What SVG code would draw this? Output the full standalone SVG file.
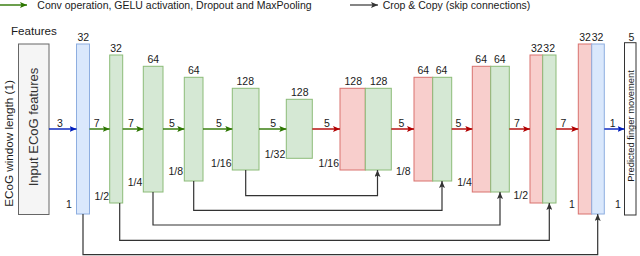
<svg xmlns="http://www.w3.org/2000/svg" width="640" height="256" viewBox="0 0 640 256">
<defs>
<style>
text{font-family:"Liberation Sans",Arial,sans-serif;fill:#1a1a1a}
.n{font-size:10.5px;text-anchor:middle}
.lg{font-size:10.5px}
.g{fill:#d5e8d4;stroke:#8cbc78;stroke-width:1}
.r{fill:#f8cecc;stroke:#d9726e;stroke-width:1}
.b{fill:#dae8fc;stroke:#8eaee0;stroke-width:1}
.ag{stroke:#2d7600;stroke-width:1.4;fill:none;marker-end:url(#mg)}
.ar{stroke:#b20000;stroke-width:1.4;fill:none;marker-end:url(#mr)}
.ab{stroke:#001dbc;stroke-width:1.4;fill:none;marker-end:url(#mb)}
.sk{stroke:#333333;stroke-width:1.2;fill:none;marker-end:url(#mk)}
</style>
<marker id="mg" markerUnits="userSpaceOnUse" markerWidth="7" markerHeight="6" refX="7" refY="3" orient="auto"><path d="M0,0 L7,3 L0,6 L1.5,3 z" fill="#2d7600"/></marker>
<marker id="mr" markerUnits="userSpaceOnUse" markerWidth="7" markerHeight="6" refX="7" refY="3" orient="auto"><path d="M0,0 L7,3 L0,6 L1.5,3 z" fill="#b20000"/></marker>
<marker id="mb" markerUnits="userSpaceOnUse" markerWidth="7" markerHeight="6" refX="7" refY="3" orient="auto"><path d="M0,0 L7,3 L0,6 L1.5,3 z" fill="#001dbc"/></marker>
<marker id="mk" markerUnits="userSpaceOnUse" markerWidth="7" markerHeight="6" refX="7" refY="3" orient="auto"><path d="M0,0 L7,3 L0,6 L1.5,3 z" fill="#333333"/></marker>
</defs>
<rect width="640" height="256" fill="#ffffff"/>

<g id="legend">
<line x1="0" y1="5" x2="27" y2="5" class="ag"/>
<text class="lg" x="37.3" y="9">Conv operation, GELU activation, Dropout and MaxPooling</text>
<line x1="350" y1="5" x2="378" y2="5" class="sk"/>
<text class="lg" x="382.7" y="9">Crop &amp; Copy (skip connections)</text>
</g>

<g id="input">
<text x="11" y="35" style="font-size:11.6px">Features</text>
<rect x="18.5" y="44" width="30.5" height="170.5" fill="#f5f5f5" stroke="#666666"/>
<text transform="translate(38,127) rotate(-90)" style="font-size:13px;text-anchor:middle;fill:#333">Input ECoG features</text>
<text transform="translate(13,143.5) rotate(-90)" style="font-size:11.7px;text-anchor:middle;fill:#1a1a1a">ECoG window length (1)</text>
</g>

<g id="b1">
<rect class="b" x="76.5" y="44" width="13" height="170"/>
<text class="n" x="83.3" y="41.3">32</text>
<text class="n" x="69" y="208.3">1</text>
</g>
<g id="g1">
<rect class="g" x="109.7" y="55" width="13" height="148"/>
<text class="n" x="116" y="52.3">32</text>
<text class="n" x="101.7" y="199.7">1/2</text>
</g>
<g id="g2">
<rect class="g" x="143.3" y="66.3" width="19.7" height="125.7"/>
<text class="n" x="153.3" y="63.3">64</text>
<text class="n" x="135" y="186">1/4</text>
</g>
<g id="g3">
<rect class="g" x="184.3" y="77.3" width="18.7" height="103.7"/>
<text class="n" x="193.8" y="74">64</text>
<text class="n" x="175.8" y="175">1/8</text>
</g>
<g id="g4">
<rect class="g" x="232.3" y="88.3" width="26.7" height="81.7"/>
<text class="n" x="245.3" y="85">128</text>
<text class="n" x="221.3" y="166.7">1/16</text>
</g>
<g id="g5">
<rect class="g" x="286.3" y="99.3" width="26" height="59"/>
<text class="n" x="299.8" y="96">128</text>
<text class="n" x="275" y="157.7">1/32</text>
</g>
<g id="d6">
<rect class="r" x="340" y="88.3" width="25.3" height="81.7"/>
<rect class="g" x="365.3" y="88.3" width="26" height="81.7"/>
<text class="n" x="353.3" y="85">128</text>
<text class="n" x="378.7" y="85">128</text>
<text class="n" x="328.8" y="166.7">1/16</text>
</g>
<g id="d7">
<rect class="r" x="414" y="77.3" width="18.7" height="103.7"/>
<rect class="g" x="432.7" y="77.3" width="19" height="103.7"/>
<text class="n" x="423.3" y="74">64</text>
<text class="n" x="441.5" y="74">64</text>
<text class="n" x="403.3" y="174.5">1/8</text>
</g>
<g id="d8">
<rect class="r" x="472.3" y="66.3" width="18.4" height="125.7"/>
<rect class="g" x="490.7" y="66.3" width="18.6" height="125.7"/>
<text class="n" x="481.2" y="63.3">64</text>
<text class="n" x="499.8" y="63.3">64</text>
<text class="n" x="464.5" y="186">1/4</text>
</g>
<g id="d9">
<rect class="r" x="530" y="55" width="12.7" height="148"/>
<rect class="g" x="542.7" y="55" width="13.3" height="148"/>
<text class="n" x="536.8" y="51.7">32</text>
<text class="n" x="549.2" y="51.7">32</text>
<text class="n" x="520.8" y="199">1/2</text>
</g>
<g id="d10">
<rect class="r" x="578.3" y="44" width="13.4" height="170"/>
<rect class="b" x="591.7" y="44" width="12.6" height="170"/>
<text class="n" x="585" y="40.5">32</text>
<text class="n" x="597.5" y="40.5">32</text>
<text class="n" x="572" y="208.3">1</text>
</g>
<g id="output">
<rect x="624.5" y="42.7" width="11.5" height="172.3" fill="#ffffff" stroke="#333333"/>
<text class="n" x="631.5" y="41">5</text>
<text class="n" x="618" y="208.3">1</text>
<text transform="translate(633.5,126) rotate(-90)" style="font-size:9.35px;text-anchor:middle">Predicted finger movement</text>
</g>

<g id="connectors">
<line class="ab" x1="49" y1="129" x2="76.5" y2="129"/>
<line class="ag" x1="89.5" y1="129" x2="109.7" y2="129"/>
<line class="ag" x1="122.7" y1="129" x2="143.3" y2="129"/>
<line class="ag" x1="163" y1="129" x2="184.3" y2="129"/>
<line class="ag" x1="203" y1="129" x2="232.3" y2="129"/>
<line class="ag" x1="259" y1="129" x2="286.3" y2="129"/>
<line class="ar" x1="312.3" y1="129" x2="340" y2="129"/>
<line class="ar" x1="391.3" y1="129" x2="414" y2="129"/>
<line class="ar" x1="451.7" y1="129" x2="472.3" y2="129"/>
<line class="ar" x1="509.3" y1="129" x2="530" y2="129"/>
<line class="ar" x1="556" y1="129" x2="578.3" y2="129"/>
<line class="ab" x1="604.3" y1="129" x2="624.5" y2="129"/>
<text class="n" x="60" y="126.5">3</text>
<text class="n" x="96.7" y="126.5">7</text>
<text class="n" x="130.8" y="126.5">7</text>
<text class="n" x="171.8" y="126.5">5</text>
<text class="n" x="219" y="126.5">5</text>
<text class="n" x="273.2" y="126.5">5</text>
<text class="n" x="326.8" y="126.5">5</text>
<text class="n" x="401.5" y="126.5">5</text>
<text class="n" x="458.5" y="126.5">5</text>
<text class="n" x="516.8" y="126.5">7</text>
<text class="n" x="563.5" y="126.5">7</text>
<text class="n" x="612.7" y="126.5">1</text>
<polyline class="sk" points="245.7,170 245.7,195.7 377.5,195.7 377.5,170"/>
<polyline class="sk" points="193.7,181 193.7,210.3 442,210.3 442,181"/>
<polyline class="sk" points="153,192 153,225 500,225 500,192"/>
<polyline class="sk" points="119.7,203 119.7,240.3 549.3,240.3 549.3,203"/>
<polyline class="sk" points="83,214 83,254.7 597.7,254.7 597.7,214"/>
</g>
</svg>
